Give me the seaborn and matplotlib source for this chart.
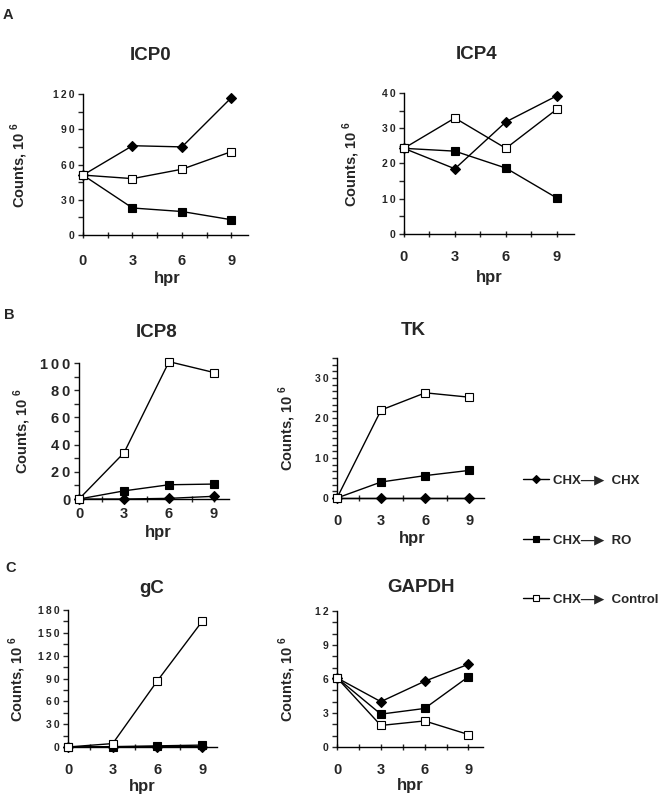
import numpy as np
import pandas as pd
import matplotlib
matplotlib.use("Agg")
import matplotlib.pyplot as plt
import seaborn as sns
from matplotlib.ticker import MultipleLocator, FuncFormatter
from matplotlib.lines import Line2D

hpr = [0, 3, 6, 9]
series_names = ["CHX", "RO", "Control"]

icp0_chx = [51, 76, 75, 117]
icp0_ro = [51, 23, 20, 13]
icp0_ctl = [51, 48, 56, 71]

icp4_chx = [24.3, 18.5, 31.8, 39.2]
icp4_ro = [24.3, 23.5, 18.7, 10.2]
icp4_ctl = [24.3, 32.9, 24.3, 35.4]

icp8_chx = [0, 0, 0.5, 2]
icp8_ro = [0, 6, 10.5, 11]
icp8_ctl = [0, 34, 101, 93]

tk_chx = [0, 0, 0, 0]
tk_ro = [0, 4, 5.6, 6.9]
tk_ctl = [0, 22, 26.3, 25.2]

gc_chx = [0, 0, 0.5, 0.5]
gc_ro = [0, 0.5, 1.5, 2.5]
gc_ctl = [0, 4.5, 87, 165]

gapdh_chx = [6.1, 4.0, 5.8, 7.3]
gapdh_ro = [6.1, 2.9, 3.4, 6.2]
gapdh_ctl = [6.1, 1.9, 2.3, 1.1]

legend_labels = ["CHX\u2014\u25B6  CHX", "CHX\u2014\u25B6  RO", "CHX\u2014\u25B6  Control"]

sns.set_style("white")
plt.rcParams["font.family"] = ["Liberation Sans", "DejaVu Sans"]
plt.rcParams["font.weight"] = "bold"
plt.rcParams["mathtext.fontset"] = "custom"
plt.rcParams["mathtext.rm"] = "Liberation Sans:bold"
plt.rcParams["mathtext.bf"] = "Liberation Sans:bold"

styles = {
    "CHX": dict(marker="D", markersize=5.5, markerfacecolor="black"),
    "RO": dict(marker="s", markersize=5.5, markerfacecolor="black"),
    "Control": dict(marker="s", markersize=6, markerfacecolor="white"),
}

fig = plt.figure(figsize=(6.72, 7.94), dpi=100)

# name, data, rect, ylim, major, minor, ytick size, xtick pad, ylabel x, title xy, hpr xy
panels = [
    ("ICP0", (icp0_chx, icp0_ro, icp0_ctl), [0.1235, 0.704, 0.2455, 0.1776], 120, 30, 15, 7.5, 11, -0.32, (0.41, 1.27), (0.51, -0.305)),
    ("ICP4", (icp4_chx, icp4_ro, icp4_ctl), [0.601, 0.7053, 0.253, 0.1776], 40, 10, 5, 7.5, 9, -0.247, (0.43, 1.27), (0.5, -0.305)),
    ("ICP8", (icp8_chx, icp8_ro, icp8_ctl), [0.1176, 0.3715, 0.2232, 0.1713], 100, 20, 10, 10.5, 3, -0.307, (0.52, 1.228), (0.527, -0.243)),
    ("TK", (tk_chx, tk_ro, tk_ctl), [0.5015, 0.3728, 0.2188, 0.1763], 35, 10, 10 / 6, 7.5, 9, -0.265, (0.517, 1.2), (0.51, -0.286)),
    ("gC", (gc_chx, gc_ro, gc_ctl), [0.1012, 0.0592, 0.2217, 0.1725], 180, 30, 15, 7.5, 9, -0.268, (0.564, 1.16), (0.5, -0.29)),
    ("GAPDH", (gapdh_chx, gapdh_ro, gapdh_ctl), [0.5015, 0.0592, 0.2173, 0.1713], 12, 3, 1, 7.5, 9, -0.267, (0.575, 1.17), (0.5, -0.28)),
]

spaced = FuncFormatter(lambda v, p: "\u2009".join(f"{v:g}"))

for name, data, rect, ymax, major, minor, ysize, xpad, ylx, txy, hxy in panels:
    ax = fig.add_axes(rect)
    for sname, vals in zip(series_names, data):
        df = pd.DataFrame({"hpr": hpr, "counts": vals})
        sns.lineplot(data=df, x="hpr", y="counts", ax=ax, color="black", linewidth=1,
                     markeredgecolor="black", markeredgewidth=0.8, clip_on=False,
                     zorder=3, **styles[sname])
    ax.set_xlim(0, 10)
    ax.set_ylim(0, ymax)
    ax.set_xticks(hpr)
    ax.xaxis.set_minor_locator(MultipleLocator(1.5))
    ax.yaxis.set_major_locator(MultipleLocator(major))
    ax.yaxis.set_minor_locator(MultipleLocator(minor))
    ax.yaxis.set_major_formatter(spaced)
    ax.tick_params(axis="x", which="both", direction="inout", length=5, width=1,
                   bottom=True, pad=xpad, labelsize=10.5)
    ax.tick_params(axis="y", which="both", direction="out", length=3.5, width=1,
                   left=True, pad=2.5, labelsize=ysize)
    for lab in ax.get_xticklabels() + ax.get_yticklabels():
        lab.set_fontweight("bold")
    sns.despine(ax=ax)
    for sp in ("left", "bottom"):
        ax.spines[sp].set_linewidth(1)
        ax.spines[sp].set_color("black")
    ax.set_xlabel("")
    ax.set_ylabel("Counts, 10 $^{6}$", fontsize=10.5, fontweight="bold")
    ax.yaxis.set_label_coords(ylx, 0.5)
    ax.text(txy[0], txy[1], name, transform=ax.transAxes, ha="center", va="center",
            fontsize=13.5, fontweight="bold")
    ax.text(hxy[0], hxy[1], "hpr", transform=ax.transAxes, ha="center", va="center",
            fontsize=12, fontweight="bold")

fig.text(0.004, 0.99, "A", fontsize=10.5, fontweight="bold", va="top")
fig.text(0.006, 1 - 315 / 794, "B", fontsize=10.5, fontweight="bold", va="center")
fig.text(0.008, 1 - 568 / 794, "C", fontsize=10.5, fontweight="bold", va="center")

handles = [Line2D([], [], color="black", linewidth=1, markeredgecolor="black",
                  markeredgewidth=0.8, **{**styles[s], "markersize": 4.5})
           for s in series_names]
fig.legend(handles, legend_labels, loc="center left",
           bbox_to_anchor=(523 / 672, 1 - 540 / 794), frameon=False,
           borderpad=0, borderaxespad=0, handlelength=1.95, handletextpad=0.35,
           labelspacing=3.6, prop={"size": 9.5, "weight": "bold",
                                   "family": ["Liberation Sans", "DejaVu Sans"]})

fig.savefig("out.png", dpi=100)
